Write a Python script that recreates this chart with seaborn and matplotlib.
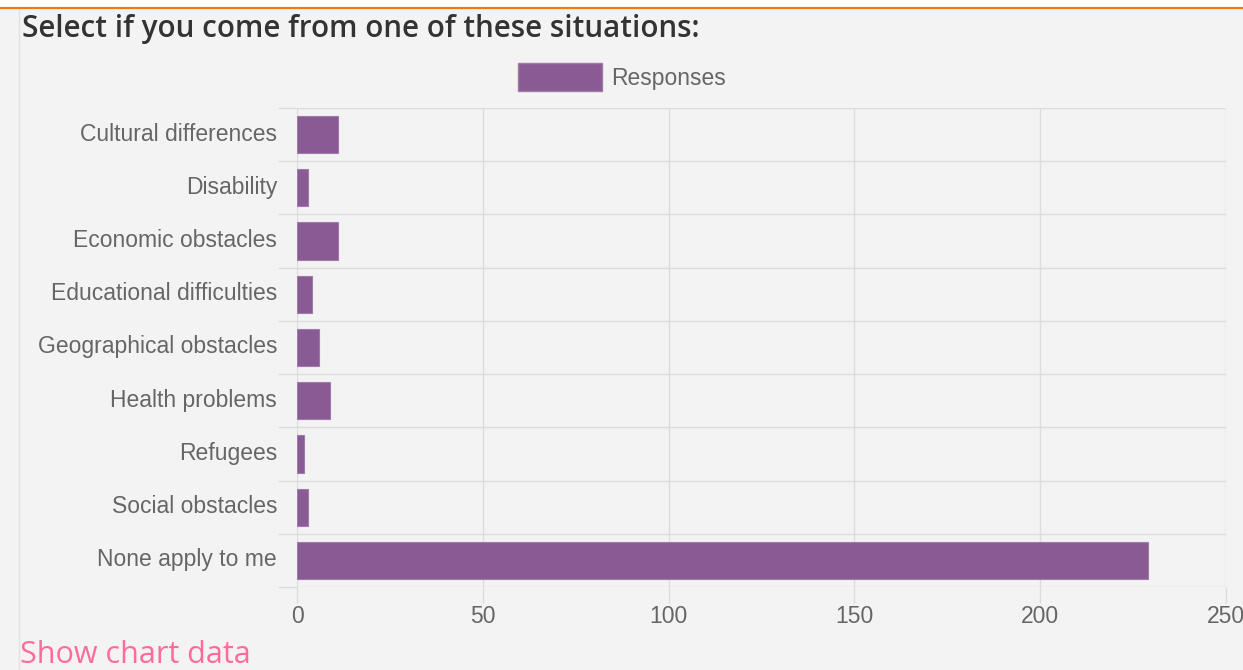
import matplotlib
matplotlib.use("Agg")
import matplotlib.pyplot as plt
import matplotlib.transforms as mtransforms
import seaborn as sns
import pandas as pd
import numpy as np
from matplotlib.patches import Rectangle
from matplotlib.lines import Line2D

# Survey question data
title = "Select if you come from one of these situations:"
categories = [
    "Cultural differences",
    "Disability",
    "Economic obstacles",
    "Educational difficulties",
    "Geographical obstacles",
    "Health problems",
    "Refugees",
    "Social obstacles",
    "None apply to me",
]
responses = [11, 3, 11, 4, 6, 9, 2, 3, 229]
x_ticks = [0, 50, 100, 150, 200, 250]
series_name = "Responses"

BG = "#f3f3f3"
BAR = "#8a5a94"
GRID = "#dcdcdc"
TEXT = "#666666"
LABEL_SIZE = 16.5

sns.set_theme(style="white")
plt.rcParams["font.family"] = ["Liberation Sans", "DejaVu Sans"]

df = pd.DataFrame({"situation": categories, "count": responses})

fig = plt.figure(figsize=(12.43, 6.70), dpi=100, facecolor=BG)
ax = fig.add_axes([297 / 1243, 83 / 670, 929 / 1243, 479 / 670])
ax.set_facecolor(BG)

sns.barplot(data=df, y="situation", x="count", orient="h", color=BAR,
            width=0.7, saturation=1, edgecolor="#a07aa8", linewidth=0.8,
            ax=ax, zorder=3)

ax.set_xlim(0, 250)
ax.set_ylim(len(categories) - 0.5, -0.5)
ax.set_xticks(x_ticks)
ax.set_xticklabels([str(t) for t in x_ticks])
ax.set_yticks(np.arange(len(categories)))
ax.set_yticklabels(categories)
ax.set_yticks(np.arange(-0.5, len(categories)), minor=True)
ax.set_xlabel("")
ax.set_ylabel("")

for s in ax.spines.values():
    s.set_visible(False)

ax.grid(False)
ax.grid(axis="x", which="major", color=GRID, linewidth=1, zorder=0)
ax.grid(axis="y", which="minor", color=GRID, linewidth=1, zorder=0)

ax.tick_params(axis="y", which="major", length=0, pad=14.4, labelsize=LABEL_SIZE,
               labelcolor=TEXT)
ax.tick_params(axis="y", which="minor", length=14, width=1, color=GRID,
               left=True)
ax.tick_params(axis="x", which="major", length=11.5, width=1, color=GRID,
               pad=1.2, labelsize=LABEL_SIZE, labelcolor=TEXT, bottom=True)

# Category labels sit slightly above the row centre
lift = mtransforms.ScaledTranslation(0, 3 / 100, fig.dpi_scale_trans)
for lbl in ax.get_yticklabels():
    lbl.set_transform(lbl.get_transform() + lift)

# Legend entry above the plot
handle = Rectangle((0, 0), 1, 1, facecolor=BAR, edgecolor="#a07aa8")
leg = fig.legend([handle], [series_name], loc="center left",
                 bbox_to_anchor=(497 / 1243, 1 - 77 / 670),
                 frameon=False, handlelength=3.7, handleheight=1.5, handletextpad=0.4,
                 fontsize=LABEL_SIZE, labelcolor=TEXT)

# Page framing: white strip, orange rule, left border
fig.patches.append(Rectangle((0, 1 - 7 / 670), 1, 7 / 670, transform=fig.transFigure,
                             facecolor="white", edgecolor="none", zorder=0))
fig.lines.append(Line2D([0, 1], [1 - 8 / 670] * 2, transform=fig.transFigure,
                        color="#f07a10", linewidth=1.6))
fig.lines.append(Line2D([18.5 / 1243] * 2, [0, 1 - 9 / 670], transform=fig.transFigure,
                        color="#e2e2e2", linewidth=1))

fig.text(22 / 1243, 1 - 29 / 670, title, fontsize=21.3, color="#333333",
         family=["Open Sans", "DejaVu Sans"], weight="semibold", va="center", ha="left")
fig.text(20 / 1243, 1 - 655 / 670, "Show chart data", fontsize=22, color="#ff6b9e",
         family=["Open Sans", "DejaVu Sans"], va="center", ha="left")

fig.savefig("out.png", dpi=100, facecolor=BG)
